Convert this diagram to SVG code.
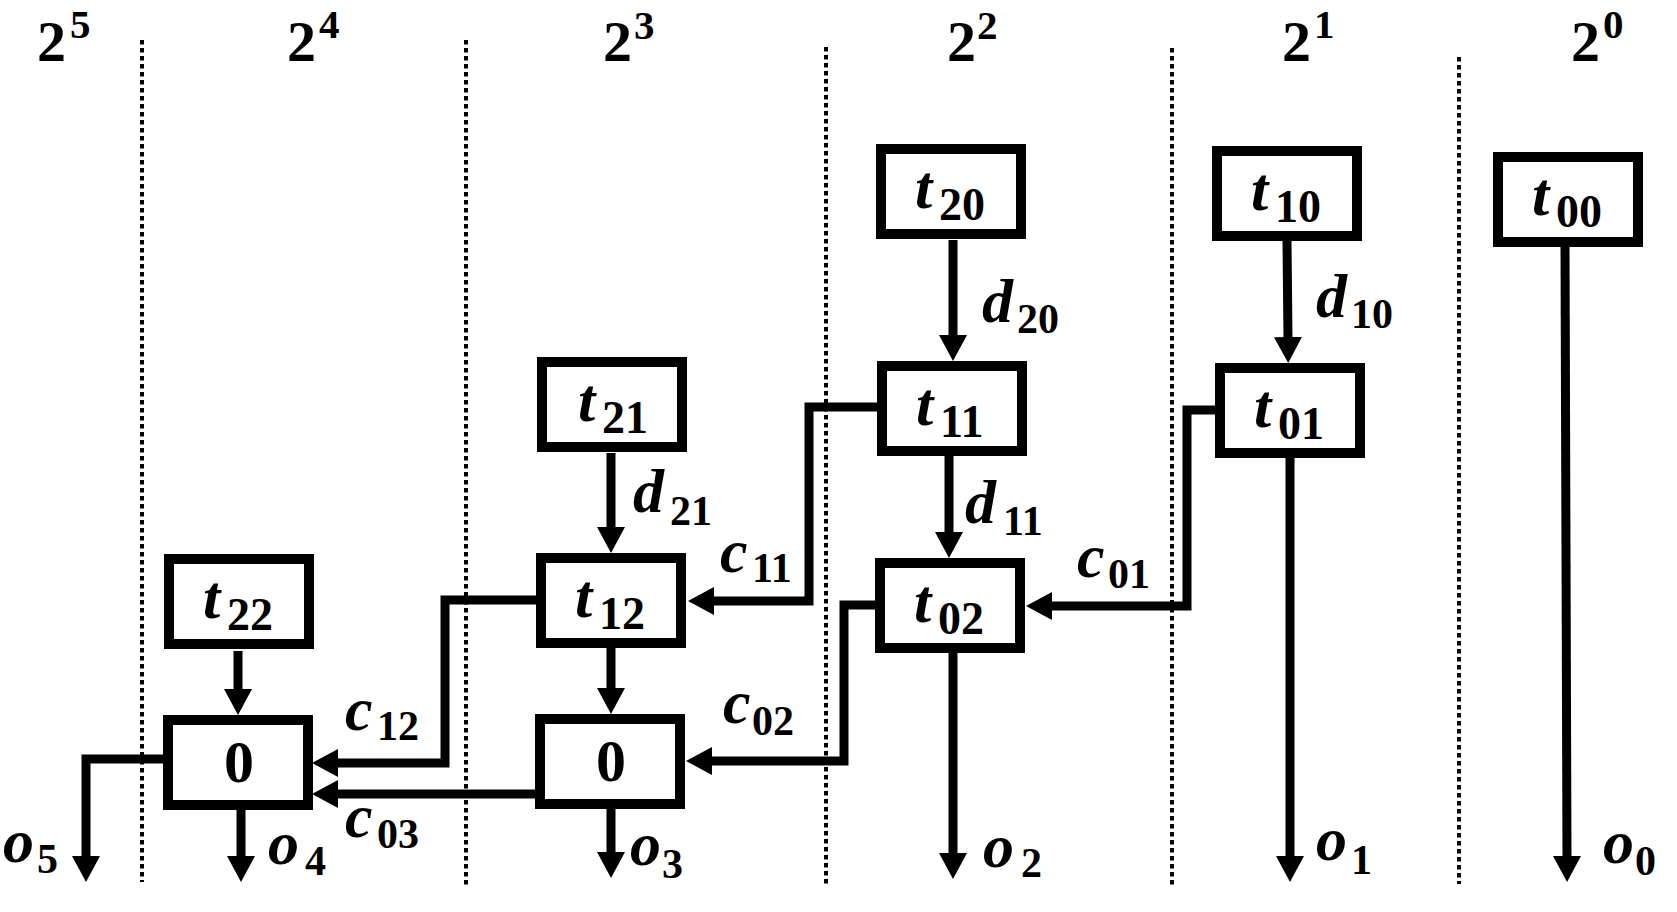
<svg xmlns="http://www.w3.org/2000/svg" width="1677" height="912" viewBox="0 0 1677 912">
<style>
.bg{fill:#fff}
.box{fill:#fff;stroke:#000;stroke-width:10}
.ln{fill:none;stroke:#000;stroke-width:9;stroke-linejoin:miter;stroke-linecap:butt}
.dot{stroke:#000;stroke-width:4;stroke-dasharray:4.5 3.5}
.it{font-family:"Liberation Serif",serif;font-style:italic;font-weight:bold;font-size:62px;fill:#000}
.sub{font-family:"Liberation Serif",serif;font-weight:bold;font-size:42px;fill:#000}
.bsub{font-family:"Liberation Serif",serif;font-weight:bold;font-size:46px;fill:#000}
.hd{font-family:"Liberation Serif",serif;font-weight:bold;font-size:58px;fill:#000}
.sup{font-family:"Liberation Serif",serif;font-weight:bold;font-size:41px;fill:#000}
.zero{font-family:"Liberation Serif",serif;font-weight:bold;font-size:60px;fill:#000;text-anchor:middle}
</style>
<defs>
<marker id="ah" markerUnits="userSpaceOnUse" markerWidth="26" markerHeight="28" viewBox="0 0 26 28" refX="2" refY="14" orient="auto">
<path d="M0,0 L26,14 L0,28 z" fill="#000"/>
</marker>
</defs>
<rect class="bg" x="0" y="0" width="1677" height="912"/>

<g id="columns">
<line class="dot" x1="142" y1="40" x2="142" y2="882"/>
<line class="dot" x1="466" y1="40" x2="466" y2="887"/>
<line class="dot" x1="826" y1="47" x2="826" y2="886"/>
<line class="dot" x1="1172" y1="48" x2="1172" y2="887"/>
<line class="dot" x1="1459" y1="57" x2="1459" y2="884"/>
<text class="hd" x="37" y="61">2</text><text class="sup" x="70" y="38">5</text>
<text class="hd" x="287" y="61">2</text><text class="sup" x="319" y="38">4</text>
<text class="hd" x="603" y="61">2</text><text class="sup" x="634" y="39">3</text>
<text class="hd" x="947" y="61">2</text><text class="sup" x="977" y="39">2</text>
<text class="hd" x="1282" y="61">2</text><text class="sup" x="1314" y="38">1</text>
<text class="hd" x="1571" y="61">2</text><text class="sup" x="1603" y="38">0</text>
</g>

<g id="connectors">
<path class="ln" marker-end="url(#ah)" d="M953,240 V337"/>
<path class="ln" marker-end="url(#ah)" d="M1287,241 L1288,339"/>
<path class="ln" marker-end="url(#ah)" d="M1565,247 L1567,858"/>
<path class="ln" marker-end="url(#ah)" d="M949,456 V534"/>
<path class="ln" marker-end="url(#ah)" d="M1290,457 V858"/>
<path class="ln" marker-end="url(#ah)" d="M953,653 V855"/>
<path class="ln" marker-end="url(#ah)" d="M611,453 V529"/>
<path class="ln" marker-end="url(#ah)" d="M611,647 V690"/>
<path class="ln" marker-end="url(#ah)" d="M238,651 V691"/>
<path class="ln" marker-end="url(#ah)" d="M241,810 V858"/>
<path class="ln" marker-end="url(#ah)" d="M611,809 V854"/>
<path class="ln" marker-end="url(#ah)" d="M163,759 H86 V858"/>
<path class="ln" marker-end="url(#ah)" d="M877,407 H809 V601 H712"/>
<path class="ln" marker-end="url(#ah)" d="M1215,410 H1187 V606 H1050"/>
<path class="ln" marker-end="url(#ah)" d="M536,600 H445 V763 H336"/>
<path class="ln" marker-end="url(#ah)" d="M875,605 H844 V761 H710"/>
<path class="ln" marker-end="url(#ah)" d="M535,794 H336"/>
</g>

<g id="edge-labels">
<text class="it" x="982" y="322">d</text><text class="sub" x="1017" y="333">20</text>
<text class="it" x="1316" y="317">d</text><text class="sub" x="1351" y="328">10</text>
<text class="it" x="633" y="512">d</text><text class="sub" x="670" y="525">21</text>
<text class="it" x="965" y="523">d</text><text class="sub" x="1003" y="535">11</text>
<text class="it" x="720" y="572">c</text><text class="sub" x="752" y="582">11</text>
<text class="it" x="1077" y="577">c</text><text class="sub" x="1108" y="588">01</text>
<text class="it" x="345" y="730">c</text><text class="sub" x="377" y="740">12</text>
<text class="it" x="723" y="723">c</text><text class="sub" x="752" y="735">02</text>
<text class="it" x="345" y="837">c</text><text class="sub" x="377" y="848">03</text>
<text class="it" x="3" y="862">o</text><text class="sub" x="37" y="873">5</text>
<text class="it" x="268" y="864">o</text><text class="sub" x="305" y="875">4</text>
<text class="it" x="630" y="865">o</text><text class="sub" x="662" y="878">3</text>
<text class="it" x="983" y="867">o</text><text class="sub" x="1021" y="877">2</text>
<text class="it" x="1316" y="860">o</text><text class="sub" x="1351" y="874">1</text>
<text class="it" x="1603" y="863">o</text><text class="sub" x="1635" y="875">0</text>
</g>

<g id="t20"><rect class="box" x="881" y="149" width="140" height="85"/><text class="it" x="915" y="208">t</text><text class="bsub" x="939" y="220">20</text></g>
<g id="t10"><rect class="box" x="1217" y="151" width="140" height="85"/><text class="it" x="1251" y="210">t</text><text class="bsub" x="1275" y="222">10</text></g>
<g id="t00"><rect class="box" x="1498" y="157" width="140" height="85"/><text class="it" x="1532" y="215">t</text><text class="bsub" x="1556" y="227">00</text></g>
<g id="t11"><rect class="box" x="882" y="366" width="140" height="85"/><text class="it" x="916" y="425">t</text><text class="bsub" x="940" y="437">11</text></g>
<g id="t01"><rect class="box" x="1220" y="368" width="140" height="85"/><text class="it" x="1254" y="427">t</text><text class="bsub" x="1278" y="439">01</text></g>
<g id="t21"><rect class="box" x="542" y="362" width="140" height="85"/><text class="it" x="578" y="421">t</text><text class="bsub" x="602" y="433">21</text></g>
<g id="t22"><rect class="box" x="169" y="559" width="140" height="85"/><text class="it" x="203" y="618">t</text><text class="bsub" x="227" y="630">22</text></g>
<g id="t12"><rect class="box" x="541" y="558" width="140" height="85"/><text class="it" x="575" y="617">t</text><text class="bsub" x="599" y="629">12</text></g>
<g id="t02"><rect class="box" x="880" y="563" width="140" height="85"/><text class="it" x="914" y="622">t</text><text class="bsub" x="938" y="634">02</text></g>
<g id="zeroL"><rect class="box" x="168" y="720" width="140" height="85"/><text class="zero" x="239" y="782">0</text></g>
<g id="zeroR"><rect class="box" x="540" y="719" width="140" height="85"/><text class="zero" x="611" y="781">0</text></g>
</svg>
